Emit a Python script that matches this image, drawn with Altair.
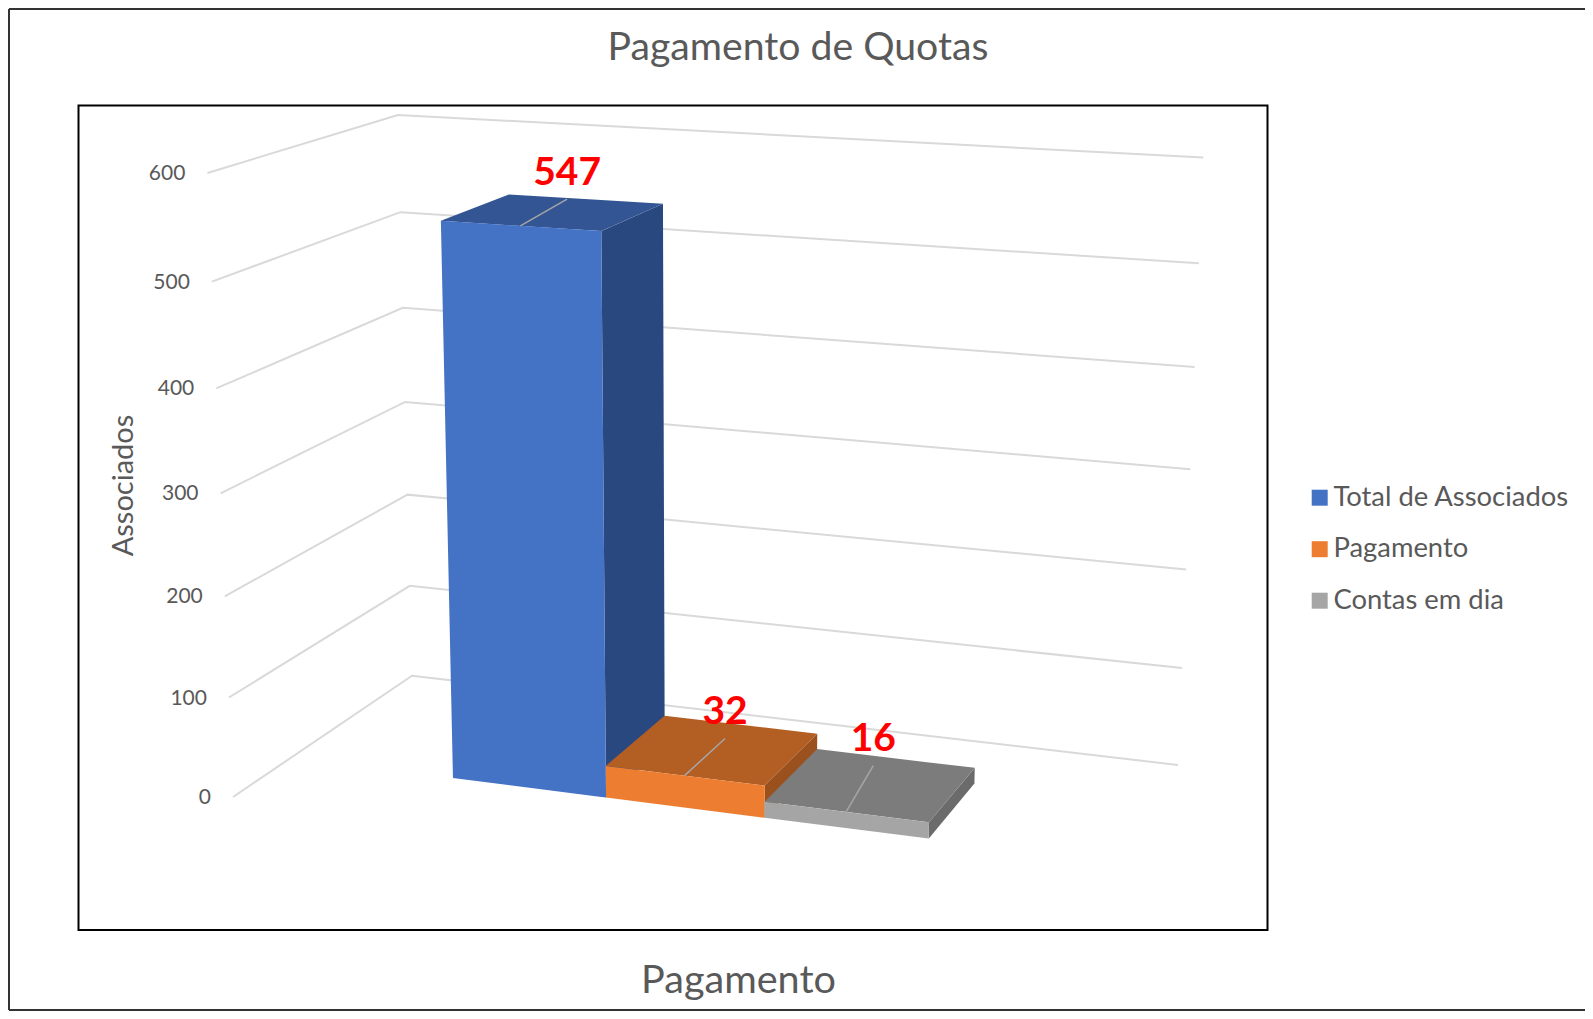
import altair as alt
import numpy as np
import pandas as pd

# ---- data ----
series = ["Total de Associados", "Pagamento", "Contas em dia"]
values = [547, 32, 16]
ticks = [0, 100, 200, 300, 400, 500, 600]
front_colors = ["#4472C4", "#ED7D31", "#A5A5A5"]
top_colors = ["#335593", "#B35E23", "#7C7C7C"]
side_colors = ["#2A4880", "#9A511E", "#6B6B6B"]
TEXT = "#595959"
FONT = "Lato"
# where each data label was dragged to, relative to the centre of its bar's top (px)
label_shift = [(13.5, -13), (12, -11), (2, -19)]

# ---- perspective camera of the 3-D chart: (bar edge, value, depth) -> page pixel ----
camera = [
    (0, 0, 0, 453, 778), (1, 0, 0, 605.6, 797), (2, 0, 0, 764.4, 817), (3, 0, 0, 929, 838),
    (0, 547, 0, 441, 221), (1, 547, 0, 601, 231), (1, 547, 1, 663, 204), (0, 547, 1, 509, 194),
    (1, 32, 0, 605.6, 767), (2, 32, 0, 765, 785), (2, 32, 1, 817, 733), (1, 32, 1, 665, 716),
    (2, 16, 0, 765, 802), (3, 16, 0, 929, 823), (3, 16, 1, 974.5, 768), (2, 16, 1, 817, 749),
    (3, 0, 1, 974.5, 784),
]
A = []
for u, v, d, px, py in camera:
    w = v / 100.0
    A.append([u, w, d, 1, 0, 0, 0, 0, -px * u, -px * w, -px * d, -px])
    A.append([0, 0, 0, 0, u, w, d, 1, -py * u, -py * w, -py * d, -py])
P = np.linalg.svd(np.array(A, float))[2][-1].reshape(3, 4)


def project(u, v, d):
    q = P @ np.array([u, v / 100.0, d, 1.0])
    return float(q[0] / q[2]), float(q[1] / q[2])


def floor_coords(px, py):
    H = P[:, [0, 2, 3]]
    q = np.linalg.solve(H, np.array([px, py, 1.0]))
    return float(q[0] / q[2]), float(q[1] / q[2])


# the corners of the chart floor, where the gridlines run
uF, dF = floor_coords(233, 797)
uB, dB = floor_coords(412, 675.7)
uR, dR = floor_coords(1178, 765)

W, H_ = 1577, 1003
X = alt.X("x:Q", scale=alt.Scale(domain=[8, 8 + W], nice=False, zero=False),
          axis=alt.Axis(title="Pagamento", labels=False, ticks=False, domain=False, grid=False,
                        titleFont=FONT, titleFontSize=39.6, titleFontWeight="normal", titleColor=TEXT,
                        titleX=730, titleY=-31, titleAlign="center", titleBaseline="middle"))
Y = alt.Y("y:Q", scale=alt.Scale(domain=[8, 8 + H_], nice=False, zero=False, reverse=True),
          axis=alt.Axis(title="Associados", labels=False, ticks=False, domain=False, grid=False,
                        titleFont=FONT, titleFontSize=29, titleFontWeight="normal", titleColor=TEXT,
                        titleX=115, titleY=477, titleAngle=270, titleAlign="center", titleBaseline="middle"))
Y2 = alt.Y2("y2:Q")
COLOR = alt.Color("series:N", sort=series,
                  scale=alt.Scale(domain=series, range=front_colors),
                  legend=alt.Legend(title=None, orient="none", legendX=1298, legendY=476,
                                    symbolType="square", symbolSize=256, symbolStrokeWidth=0,
                                    labelFont=FONT, labelFontSize=27.4, labelColor=TEXT,
                                    labelOffset=0, rowPadding=22.5, labelLimit=400))


def face(points):
    """Upper and lower edge of a convex face, for an area mark."""
    pts = list(points)
    rows = []
    xs = sorted({round(p[0], 3) for p in pts})
    for x in xs:
        ys = []
        for i in range(len(pts)):
            (x0, y0), (x1, y1) = pts[i], pts[(i + 1) % len(pts)]
            if min(x0, x1) - 1e-3 <= x <= max(x0, x1) + 1e-3:
                if abs(x1 - x0) < 1e-6:
                    ys += [y0, y1]
                else:
                    t = min(1, max(0, (x - x0) / (x1 - x0)))
                    ys.append(y0 + t * (y1 - y0))
        rows.append({"x": x, "y": min(ys), "y2": max(ys)})
    return pd.DataFrame(rows)


layers = []

# frames
frame_rows = pd.DataFrame([{"x": 78.5, "x2": 1267.5, "y": 105.5, "y2": 930}])
layers.append(alt.Chart(frame_rows).mark_rect(fill=None, stroke="#000000", strokeWidth=2).encode(
    x=X, x2="x2:Q", y=Y, y2="y2:Q"))
outer = pd.DataFrame([
    {"x": 9, "x2": 9, "y": 9, "y2": 1010},
    {"x": 9, "x2": 1585, "y": 9, "y2": 9},
    {"x": 9, "x2": 1585, "y": 1010, "y2": 1010},
])
layers.append(alt.Chart(outer).mark_rule(color="#333333", strokeWidth=2).encode(
    x=X, x2="x2:Q", y=Y, y2="y2:Q"))

# gridlines on the two walls
grid_rows = []
for t in ticks:
    for k, (u, d) in enumerate([(uF, dF), (uB, dB), (uR, dR)]):
        x, y = project(u, t, d)
        grid_rows.append({"x": x, "y": y, "tick": t, "k": k})
layers.append(alt.Chart(pd.DataFrame(grid_rows)).mark_line(color="#D9D9D9", strokeWidth=2).encode(
    x=X, y=Y, detail="tick:N", order="k:Q"))

# value-axis labels
lab_rows = []
for t in ticks:
    x, y = project(uF, t, dF)
    lab_rows.append({"x": x - 22, "y": y + 1, "label": str(t)})
layers.append(alt.Chart(pd.DataFrame(lab_rows)).mark_text(
    font=FONT, fontSize=21, color=TEXT, align="right", baseline="middle").encode(
    x=X, y=Y, text="label:N"))

# bars
for i, (name, val) in enumerate(zip(series, values)):
    a, b = i, i + 1
    side = [project(b, val, 0), project(b, val, 1), project(b, 0, 1), project(b, 0, 0)]
    top = [project(a, val, 0), project(b, val, 0), project(b, val, 1), project(a, val, 1)]
    front = [project(a, val, 0), project(b, val, 0), project(b, 0, 0), project(a, 0, 0)]
    layers.append(alt.Chart(face(side)).mark_area(orient="vertical").encode(
        x=X, y=Y, y2=Y2, color=alt.value(side_colors[i])))
    layers.append(alt.Chart(face(top)).mark_area(orient="vertical").encode(
        x=X, y=Y, y2=Y2, color=alt.value(top_colors[i])))
    df = face(front)
    df["series"] = name
    layers.append(alt.Chart(df).mark_area(orient="vertical").encode(
        x=X, y=Y, y2=Y2, color=COLOR))

# leader lines and data labels
lead_rows, val_rows = [], []
for i, val in enumerate(values):
    cx, cy = project(i + 0.5, val, 0.5)
    lx, ly = cx + label_shift[i][0], cy + label_shift[i][1]
    x0, y0 = project(i + 0.5, val, 0)
    lead_rows.append({"x": x0, "y": y0, "bar": i, "k": 0})
    lead_rows.append({"x": lx, "y": ly, "bar": i, "k": 1})
    val_rows.append({"x": lx, "y": ly - 26.5, "label": str(val)})
layers.append(alt.Chart(pd.DataFrame(lead_rows)).mark_line(color="#A6A6A6", strokeWidth=1.5).encode(
    x=X, y=Y, detail="bar:N", order="k:Q"))
layers.append(alt.Chart(pd.DataFrame(val_rows)).mark_text(
    font=FONT, fontSize=39, fontWeight="bold", color="#FF0000", align="center", baseline="middle").encode(
    x=X, y=Y, text="label:N"))

chart = alt.layer(*layers).properties(
    width=W, height=H_, padding=0,
    autosize=alt.AutoSizeParams(type="none"),
    background="#FFFFFF",
    title=alt.TitleParams("Pagamento de Quotas", font=FONT, fontSize=39.2, fontWeight="normal", color=TEXT,
                          anchor="middle", frame="group", dx=1.5, dy=39, offset=-40, baseline="middle"),
).configure_view(stroke=None)

chart.save("out.html", embed_options={"renderer": "svg", "actions": False})
